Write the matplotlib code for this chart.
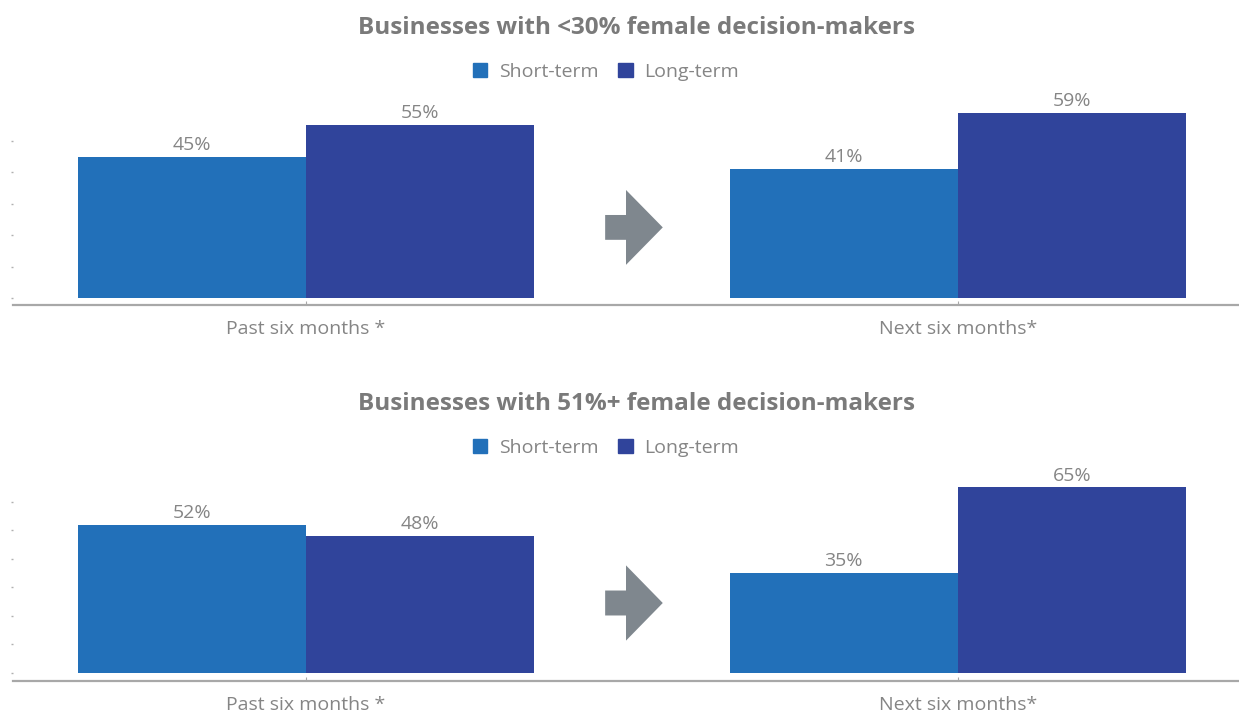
import matplotlib
matplotlib.use("Agg")
import matplotlib.pyplot as plt
from matplotlib.patches import Polygon, Patch

plt.rcParams['font.family'] = ['Open Sans', 'DejaVu Sans']

periods = ["Past six months *", "Next six months*"]
series_names = ["Short-term", "Long-term"]
colors = ["#2270b9", "#30449b"]

titles = ["Businesses with <30% female decision-makers",
          "Businesses with 51%+ female decision-makers"]
short_term = [[45, 41], [52, 35]]
long_term = [[55, 59], [48, 65]]

W, H = 1239, 716
fig = plt.figure(figsize=(W / 100, H / 100), dpi=100)

text_gray = "#7a7a7a"
label_gray = "#858585"
panels = [
    dict(bottom=305, top=111, title_y=28, legend_y=72, ylim=(-2.2, 59.5)),
    dict(bottom=681, top=486, title_y=404, legend_y=448, ylim=(-2.8, 65.5)),
]

width = 0.35
for i, p in enumerate(panels):
    ax = fig.add_axes([13 / W, (H - p['bottom']) / H, 1226 / W,
                       (p['bottom'] - p['top']) / H])
    xs = list(range(len(periods)))
    b1 = ax.bar([x - width / 2 for x in xs], short_term[i], width,
                color=colors[0], label=series_names[0])
    b2 = ax.bar([x + width / 2 for x in xs], long_term[i], width,
                color=colors[1], label=series_names[1])
    for bars in (b1, b2):
        for rect in bars:
            h = rect.get_height()
            ax.annotate(f"{h:.0f}%", (rect.get_x() + rect.get_width() / 2, h),
                        xytext=(0, 2), textcoords="offset points",
                        ha="center", va="bottom", fontsize=14,
                        color=label_gray, clip_on=False)
    ax.set_xlim(-0.449, 1.431)
    ax.set_ylim(*p['ylim'])
    ax.set_yticks(range(0, int(p['ylim'][1]) + 1, 10))
    ax.set_yticklabels([])
    ax.tick_params(axis='y', length=1.5, width=1, color="#b0b0b0", pad=0)
    ax.set_xticks(xs)
    ax.set_xticklabels(periods, fontsize=14, color=label_gray)
    ax.tick_params(axis='x', length=3, direction='in', color="#a8a8a8",
                   pad=11)
    for s in ("top", "right", "left"):
        ax.spines[s].set_visible(False)
    ax.spines['bottom'].set_color("#a8a8a8")
    ax.spines['bottom'].set_linewidth(1.6)
    ax.set_facecolor("none")

    # arrow (decorative)
    cy = 0.40
    sx, hx, tx = 0.483, 0.500, 0.530
    hh = 0.193
    sh = 0.064
    arrow = Polygon([(sx, cy - sh), (hx, cy - sh), (hx, cy - hh), (tx, cy),
                     (hx, cy + hh), (hx, cy + sh), (sx, cy + sh)],
                    closed=True, transform=ax.transAxes, color="#7f878e",
                    lw=0)
    ax.add_patch(arrow)

    fig.text(636 / W, (H - p['title_y']) / H, titles[i], ha="center",
             va="center", fontsize=17.5, fontweight="bold", color=text_gray)
    handles = [Patch(color=c, label=n) for c, n in zip(colors, series_names)]
    fig.legend(handles=handles, loc="center", ncol=2,
               bbox_to_anchor=(606 / W, (H - p['legend_y']) / H),
               frameon=False, labelcolor=label_gray,
               prop=dict(size=14),
               handlelength=0.75, handleheight=0.75, handletextpad=0.6,
               columnspacing=1.0)

fig.savefig("out.png", dpi=100, facecolor="white")
